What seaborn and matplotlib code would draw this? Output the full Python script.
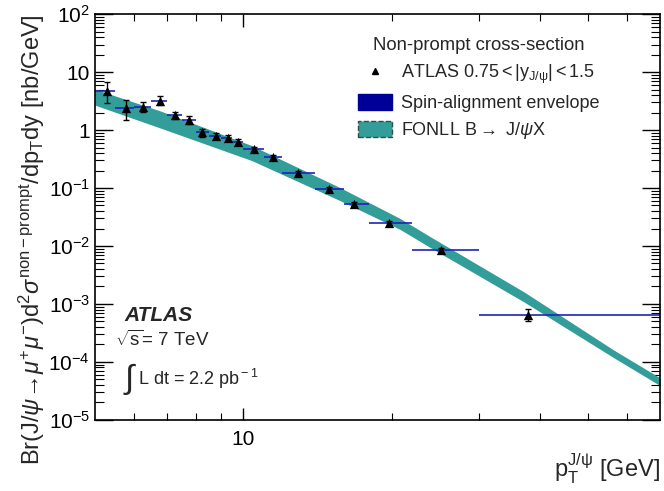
import numpy as np
import pandas as pd
import matplotlib
matplotlib.use("Agg")
import matplotlib.pyplot as plt
import seaborn as sns
from matplotlib.lines import Line2D
from matplotlib.patches import Patch
from matplotlib.ticker import LogLocator, NullFormatter, FixedLocator

# ATLAS non-prompt J/psi cross-section, 0.75 < |y| < 1.5
pt_mean = [5.28, 5.78, 6.27, 6.78, 7.27, 7.77, 8.26, 8.79, 9.29, 9.77,
           10.5, 11.5, 12.9, 14.9, 16.8, 19.7, 25.2, 37.8]
xsec = [4.77, 2.37, 2.52, 3.16, 1.82, 1.49, 0.91, 0.80, 0.74, 0.63,
        0.47, 0.347, 0.184, 0.096, 0.053, 0.0246, 0.0085, 6.5e-4]
err_up = [2.03, 0.92, 0.56, 0.70, 0.25, 0.25, 0.12, 0.08, 0.08, 0.07,
          0.04, 0.03, 0.015, 0.008, 0.004, 0.002, 0.0008, 1.6e-4]
err_dn = [1.88, 0.88, 0.45, 0.46, 0.29, 0.22, 0.14, 0.09, 0.08, 0.07,
          0.04, 0.03, 0.015, 0.008, 0.004, 0.002, 0.0008, 1.4e-4]
bin_lo = [5, 5.5, 6, 6.5, 7, 7.5, 8, 8.5, 9, 9.5, 10, 11, 12, 14, 16, 18, 22, 30]
bin_hi = [5.5, 6, 6.5, 7, 7.5, 8, 8.5, 9, 9.5, 10, 11, 12, 14, 16, 18, 22, 30, 70]

# FONLL band (upper / lower edge)
fonll_pt = [5.0, 6.8, 10.4, 15.7, 20.8, 24.2, 37.1, 56.4, 70.0]
fonll_hi = [5.09, 2.13, 0.541, 0.102, 0.0298, 0.0137, 1.61e-3, 1.60e-4, 5.3e-5]
fonll_lo = [2.70, 1.08, 0.298, 0.0608, 0.0193, 0.0089, 1.08e-3, 1.18e-4, 3.9e-5]

df = pd.DataFrame({"pt": pt_mean, "xsec": xsec})

sns.set_style("ticks")
plt.rcParams["font.family"] = ["Liberation Sans", "DejaVu Sans"]
plt.rcParams["mathtext.fontset"] = "custom"
plt.rcParams["mathtext.rm"] = "Liberation Sans"
plt.rcParams["mathtext.it"] = "Liberation Sans:italic"
plt.rcParams["mathtext.bf"] = "Liberation Sans:bold"

teal = "#339e99"

fig, ax = plt.subplots(figsize=(6.64, 4.91), dpi=100)
fig.subplots_adjust(left=0.143, right=0.994, bottom=0.145, top=0.971)

ax.fill_between(fonll_pt, fonll_lo, fonll_hi, color=teal, lw=0, zorder=1)

# spin-alignment envelope drawn as bin-width bars
ax.hlines(xsec, bin_lo, bin_hi, color="#2222b8", lw=1.4, alpha=0.85, zorder=2)

ax.errorbar(pt_mean, xsec, yerr=[err_dn, err_up], fmt="none", ecolor="black",
            elinewidth=1, capsize=2, capthick=1, zorder=3)
sns.scatterplot(data=df, x="pt", y="xsec", marker="^", color="black", s=45,
                edgecolor="black", linewidth=0, ax=ax, zorder=4)

ax.set_xscale("log")
ax.set_yscale("log")
ax.set_xlim(5, 70)
ax.set_ylim(1e-5, 1e2)

yt = [1e2, 1e1, 1, 1e-1, 1e-2, 1e-3, 1e-4, 1e-5]
ylabels = [r"10$^{2}$", "10", "1", r"10$^{-1}$", r"10$^{-2}$", r"10$^{-3}$",
           r"10$^{-4}$", r"10$^{-5}$"]
ax.set_yticks(yt)
ax.set_yticklabels(ylabels)
ax.yaxis.set_minor_locator(LogLocator(base=10, subs=np.arange(2, 10), numticks=20))
ax.yaxis.set_minor_formatter(NullFormatter())

ax.xaxis.set_major_locator(FixedLocator([10]))
ax.set_xticklabels(["10"])
ax.xaxis.set_minor_locator(FixedLocator([6, 7, 8, 9, 20, 30, 40, 50, 60]))
ax.xaxis.set_minor_formatter(NullFormatter())

ax.tick_params(axis="both", which="both", direction="in", top=True, right=True,
               labelsize=15, colors="black")
ax.tick_params(axis="y", which="major", length=13, width=1)
ax.tick_params(axis="y", which="minor", length=6.5, width=0.8)
ax.tick_params(axis="x", which="major", length=9, width=1, pad=7)
ax.tick_params(axis="x", which="minor", length=5, width=0.8)
for s in ax.spines.values():
    s.set_linewidth(1.2)
    s.set_color("black")

ax.set_xlabel(r"p$_{\rm T}^{\rm J/\psi}$ [GeV]", fontsize=17, loc="right", labelpad=2)
ax.set_ylabel(r"Br(J/$\psi\!\rightarrow\!\mu^{+}\mu^{-}$)d$^{2}\sigma^{\rm non-prompt}$/dp$_{\rm T}$dy [nb/GeV]",
              fontsize=17, loc="top", labelpad=1)

handles = [
    Line2D([], [], marker="^", color="black", ls="none", markersize=5),
    Patch(facecolor="#000099", edgecolor="#000099"),
    Patch(facecolor=teal, edgecolor="#2a4f4d", linestyle="--", linewidth=1),
]
labels = [r"ATLAS 0.75$<$|y$_{\rm J/\psi}$|$<$1.5", "Spin-alignment envelope",
          r"FONLL B$\rightarrow$ J/$\psi$X"]
leg = ax.legend(handles, labels, title="Non-prompt cross-section", frameon=False,
                loc="upper left", bbox_to_anchor=(0.45, 0.965), fontsize=13,
                title_fontsize=13.3, handlelength=1.85, handleheight=1.0,
                handletextpad=0.5, labelspacing=0.45, borderpad=0)

ax.text(0.053, 0.257, "ATLAS", transform=ax.transAxes, fontsize=15,
        fontweight="bold", fontstyle="italic", va="center")
ax.text(0.036, 0.197, r"$\sqrt{\rm s}$= 7 TeV", transform=ax.transAxes,
        fontsize=13.5, va="center")
ax.text(0.05, 0.10, r"$\int$", transform=ax.transAxes, fontsize=24, va="center")
ax.text(0.077, 0.10, r"L dt = 2.2 pb$^{\rm -1}$", transform=ax.transAxes,
        fontsize=13, va="center")

plt.savefig("out.png", dpi=100)
